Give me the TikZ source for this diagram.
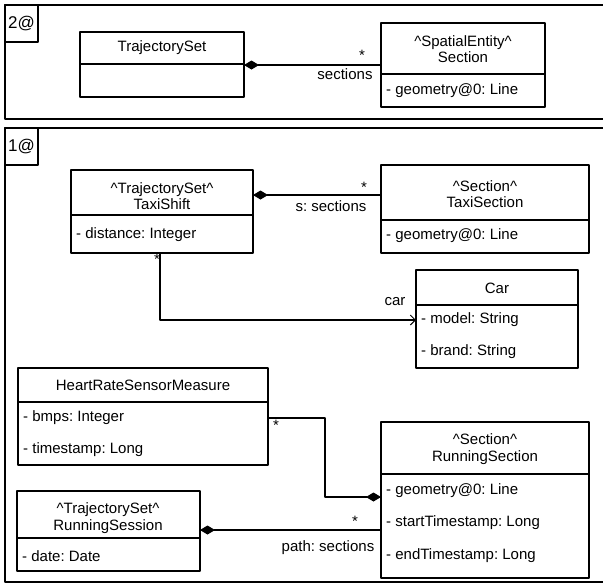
\documentclass[tikz,border=0pt]{standalone}
\usepackage{fontspec}
\setmainfont{Liberation Sans}
\usetikzlibrary{arrows.meta}
\tikzset{
	box/.style={draw, line width=1.1pt, anchor=north west, inner sep=0pt, outer sep=0pt},
	ttl/.style={align=center, inner sep=0pt},
	attr/.style={anchor=west, inner sep=0pt},
	tag/.style={box, minimum width=33pt, minimum height=37pt, font=\fontsize{17}{19}\selectfont},
	link/.style={line width=1.1pt},
	comp/.style={link, {Diamond[length=15pt,width=9pt]}-},
	nav/.style={link, -{Straight Barb[length=5pt,width=10pt,line width=1pt]}},
}
% umlclass: name, x, y, width, height, header height
\newcommand{\umlclass}[6]{%
	\node[box, minimum width=#4pt, minimum height=#5pt] (#1) at (#2,#3) {};
	\draw[line width=1.1pt] ([yshift=-#6pt]#1.north west) -- ([yshift=-#6pt]#1.north east);
}
\frenchspacing
\begin{document}
\begin{tikzpicture}[x=1pt, y=-1pt, font=\fontsize{15}{16.5}\selectfont, line join=round]
		\useasboundingbox (0,0) rectangle (603,584);
		% frames
		\draw[line width=1.1pt] (5,5) rectangle (606,119);
		\node[tag] (f2) at (5,5) {2@};
		\draw[line width=1.1pt] (5,128) rectangle (606,582);
		\node[tag] (f1) at (5,128) {1@};
		
		% --- 2@
		\umlclass{tset}{80}{32}{164}{65}{32}
		\node[ttl] at (162,48) {TrajectorySet};
		\umlclass{sec}{381}{23}{164}{84}{51}
		\node[ttl] at (463,49) {\textasciicircum SpatialEntity\textasciicircum\\Section};
		\node[attr] at (386,91) {- geometry@0: Line};
		\coordinate (a1) at ([yshift=-33pt]tset.north east);
		\draw[comp] (a1) -- (a1 -| sec.west);
		\node at (362,55) {*};
		\node at (345,74) {sections};
		
		% --- 1@
		\umlclass{shift}{71}{170}{182}{83}{45}
		\node[ttl] at (162,196) {\textasciicircum TrajectorySet\textasciicircum\\TaxiShift};
		\node[attr] at (76,235) {- distance: Integer};
		\umlclass{tsec}{381}{165}{208}{88}{55}
		\node[ttl] at (485,194) {\textasciicircum Section\textasciicircum\\TaxiSection};
		\node[attr] at (386,236) {- geometry@0: Line};
		\coordinate (a2) at ([yshift=-25pt]shift.north east);
		\draw[comp] (a2) -- (a2 -| tsec.west);
		\node at (364,187) {*};
		\node at (331,206) {s: sections};
		
		\umlclass{car}{416}{270}{162}{98}{35}
		\node[ttl] at (497,288) {Car};
		\node[attr] at (421,320) {- model: String};
		\node[attr] at (421,352) {- brand: String};
		\coordinate (a3) at ([xshift=-2pt]shift.south);
		\coordinate (a4) at ([yshift=-50pt]car.north west);
		\draw[nav] (a3) |- (a4);
		\node at (157,259) {*};
		\node at (395,302) {car};
		
		\umlclass{hrsm}{18}{368}{250}{97}{34}
		\node[ttl] at (143,385) {HeartRateSensorMeasure};
		\node[attr] at (23,418) {- bmps: Integer};
		\node[attr] at (23,450) {- timestamp: Long};
		\umlclass{rsec}{381}{422}{208}{156}{52}
		\node[ttl] at (485,449) {\textasciicircum Section\textasciicircum\\RunningSection};
		\node[attr] at (386,491) {- geometry@0: Line};
		\node[attr] at (386,523) {- startTimestamp: Long};
		\node[attr] at (386,556) {- endTimestamp: Long};
		\coordinate (a5) at ([yshift=-50pt]hrsm.north east);
		\coordinate (a6) at ([yshift=-75pt]rsec.north west);
		\draw[comp] (a6) -- ++(-56,0) |- (a5);
		\node at (276,425) {*};
		
		\umlclass{rsess}{17}{491}{183}{80}{47}
		\node[ttl] at (108,518) {\textasciicircum TrajectorySet\textasciicircum\\RunningSession};
		\node[attr] at (22,556) {- date: Date};
		\coordinate (a7) at ([yshift=-39pt]rsess.north east);
		\draw[comp] (a7) -- (a7 -| rsec.west);
		\node at (355,521) {*};
		\node at (328,548) {path: sections};
\end{tikzpicture}
\end{document}
